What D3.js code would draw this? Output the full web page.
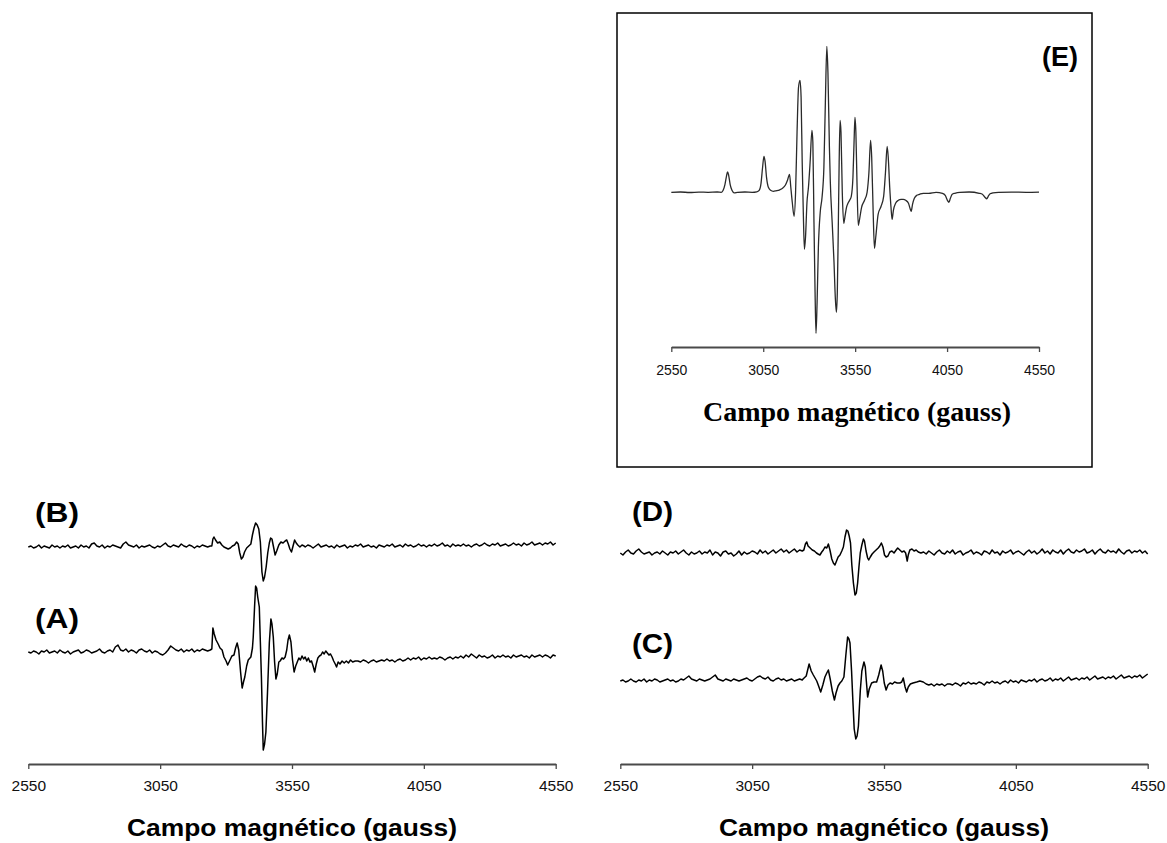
<!DOCTYPE html>
<html><head><meta charset="utf-8">
<script src="https://cdn.jsdelivr.net/npm/d3@7"></script>
<style>body{margin:0;background:#fff;} svg{display:block}</style>
</head><body><svg id="c" width="1167" height="843"></svg>
<script>
// ---------- data ----------
const fieldDomain = [2550, 4550];
const tickValues = [2550, 3050, 3550, 4050, 4550];
const axisTitle = "Campo magnético (gauss)";
const noiseStep = 10; // gauss between baseline readings

// Trace A (left panel, lower)
const aLeft = [0,-1,1,0,-2,1,0,2,-1,0, 1,-1,2,0,-1,1,-2,0,1,2, -1,0,2,1,-1,0,1,3,0,-1, 1,2,0,5,7,2,1,3,0,2,
  1,-1,2,3,1,0,2,-1,1,0, -2,-3,-1,2,6,4,2,1,3,0, 2,1,3,0,2,1,3,2,1,2];
const aPeak = [[3246,3],[3250,24],[3255,18],[3262,12],[3270,8],[3277,4],[3285,2],[3292,-5],[3300,-9],[3306,-13],
  [3315,-8],[3322,-4],[3330,-3],[3336,4],[3342,9],[3348,2],[3355,-20],[3361,-36],[3366,-30],[3371,-25],[3378,-14],
  [3384,-8],[3394,-5],[3400,4],[3403,15],[3408,45],[3412,66],[3416,64],[3420,55],[3426,45],[3430,10],[3434,-25],
  [3438,-70],[3441,-98],[3446,-92],[3451,-80],[3457,-41],[3464,9],[3470,33],[3474,28],[3479,15],[3484,-10],
  [3489,-27],[3494,-22],[3500,-10],[3505,-9],[3512,-6],[3518,-7],[3524,-5],[3530,2],[3535,12],[3540,17],[3546,10],
  [3552,-8],[3558,-20],[3564,-14],[3570,-10],[3576,-6],[3582,-8],[3588,-4],[3594,-7],[3600,-5],[3606,-9],[3612,-6],
  [3618,-10],[3624,-9],[3630,-14],[3636,-20],[3642,-12],[3648,-6],[3654,-4],[3660,-3],[3666,0],[3672,-2],[3678,1],
  [3684,-1],[3690,-3],[3696,-2],[3702,-5],[3708,-9],[3714,-12],[3719,-15],[3725,-10],[3732,-12],[3740,-9],
  [3748,-11],[3756,-9],[3764,-11],[3772,-8],[3780,-10],[3790,-9]];
const aRight = [-9,-10,-8,-9,-11,-9,-8,-10,-9,-8, -9,-7,-9,-8,-10,-8,-7,-9,-8,-6, -8,-6,-7,-5,-8,-6,-7,-5,-7,-6,
  -7,-5,-6,-8,-6,-5,-7,-5,-6,-4, -6,-3,-5,-2,-4,-6,-3,-5,-4,-6, -5,-3,-6,-4,-5,-3,-5,-4,-6,-3,
  -5,-4,-3,-5,-4,-6,-3,-5,-4,-3, -5,-3,-4,-6,-3,-4];

// Trace B (left panel, upper)
const bLeft = [0,1,-1,0,2,-1,1,0,-1,2, 0,1,-1,1,0,2,-1,0,1,-1, 2,0,1,-1,3,4,1,0,2,-1, 1,0,2,1,0,-1,3,5,2,1,
  0,2,-1,1,0,1,2,0,-1,1, 0,2,4,1,0,2,1,0,3,1, 0,2,1,-1,1,0,2,1,0,1];
const bPeak = [[3246,1],[3250,8],[3254,10],[3260,7],[3268,4],[3276,5],[3284,2],[3292,0],[3300,-1],[3308,-2],
  [3316,-1],[3324,1],[3332,2],[3340,5],[3346,3],[3352,-6],[3358,-12],[3364,-10],[3370,-5],[3378,-1],[3386,1],
  [3394,3],[3400,12],[3406,19],[3412,24],[3418,22],[3424,18],[3430,5],[3436,-25],[3441,-34],[3446,-30],[3452,-20],
  [3458,-6],[3464,4],[3469,9],[3474,8],[3480,0],[3486,-8],[3492,-4],[3500,2],[3508,5],[3516,4],[3524,6],[3530,7],
  [3536,3],[3542,-2],[3548,-5],[3554,1],[3560,7],[3566,4],[3572,2],[3580,0],[3588,2],[3596,1]];
const bRight = [0,2,1,-1,1,3,0,1,2,0, 1,-1,2,0,1,2,-1,1,0,2, 1,3,0,1,2,0,1,-1,2,1, 0,2,1,3,0,1,2,0,3,1,
  2,0,1,3,1,2,0,2,1,3, 1,2,4,1,2,0,3,1,2,1, 3,1,2,0,2,3,1,2,4,2, 1,3,2,4,1,2,3,1,2,4,
  2,3,1,4,2,3,5,2,3,4, 2,4,3,5,2,4];

// Trace C (right panel, lower)
const cLeft = [0,1,-1,0,2,0,-1,1,0,2, -1,1,0,2,1,-1,0,1,2,0, 1,-1,0,2,1,3,5,2,1,0, 2,1,0,1,2,4,6,2,1,0,
  2,1,0,2,1,0,1,2,3,1, 0,2,4,5,3,2,4,1,0,2, 3,1,2,0,1,2,0,1,2,1];
const cPeak = [[3243,2],[3255,5],[3266,17],[3274,10],[3282,6],[3295,0],[3302,-5],[3310,-11],[3318,-4],[3326,4],
  [3333,8],[3339,11],[3346,2],[3354,-10],[3362,-19],[3368,-12],[3376,-5],[3383,-2],[3390,0],[3398,4],[3405,25],
  [3412,44],[3417,42],[3421,38],[3427,10],[3432,-20],[3437,-48],[3443,-58],[3448,-55],[3453,-45],[3460,-10],
  [3466,10],[3474,19],[3479,14],[3483,0],[3488,-16],[3494,-8],[3503,-2],[3512,-1],[3522,-1],[3530,6],[3539,16],
  [3545,10],[3551,-2],[3558,-9],[3565,-4],[3573,-2],[3582,-3],[3590,-1],[3600,-2],[3610,-2],[3617,-1],[3623,3],
  [3630,-6],[3636,-11],[3642,-6],[3650,-3],[3660,-2],[3674,-1],[3686,0],[3699,-1],[3710,-3],[3720,-4],[3730,-3],
  [3740,-5],[3750,-3],[3760,-4],[3770,-3],[3780,-5],[3790,-3]];
const cRight = [-3,-4,-2,-3,-5,-2,-3,-1,-3,-2, -3,-1,-2,-4,-1,-2,0,-2,-1,-3, -1,0,-2,1,-1,0,-2,1,0,-1,
  1,0,2,-1,1,2,0,1,3,0, 2,1,3,0,2,4,1,2,3,1, 3,2,4,1,3,5,2,3,4,2, 4,3,5,2,4,6,3,4,5,3, 5,4,6,3,5,7];

// Trace D (right panel, upper)
const dLeft = [0,-2,1,3,0,-1,2,4,1,-1, 0,1,-2,0,1,-1,2,0,-2,1, 0,2,-1,1,3,0,-2,1,-1,0, 2,-1,1,0,3,-2,1,0,-3,1,
  2,-1,0,-3,-1,2,-2,1,-1,0, 2,1,-1,3,0,2,-1,1,3,0, 2,4,1,3,0,2,4,1,3,2];
const dPeak = [[3246,3],[3252,9],[3257,11],[3262,7],[3270,5],[3278,3],[3286,2],[3294,0],[3300,-1],[3307,-2],
  [3314,1],[3320,3],[3326,6],[3333,5],[3339,9],[3345,3],[3352,-6],[3358,-10],[3364,-12],[3370,-8],[3376,-4],
  [3383,-2],[3390,2],[3396,6],[3402,16],[3408,23],[3413,22],[3418,17],[3423,10],[3428,-12],[3434,-30],[3440,-42],
  [3445,-40],[3450,-30],[3455,-14],[3460,0],[3466,8],[3472,14],[3476,12],[3482,2],[3488,-5],[3492,-7],[3498,-4],
  [3505,-1],[3512,1],[3520,3],[3528,5],[3534,7],[3540,10],[3546,6],[3552,-2],[3558,-4],[3565,-3],[3572,1],
  [3580,2],[3588,0],[3596,3],[3602,5],[3610,3],[3618,1],[3626,2],[3632,0],[3638,-8],[3642,-2],[3648,3],[3656,4],
  [3664,2],[3672,3],[3680,1],[3690,0]];
const dRight = [1,-1,2,0,-2,1,3,0,-1,2, 0,3,-1,1,2,-2,0,1,3,-1, 1,0,-2,2,1,-1,3,0,1,-2, 2,0,1,3,-1,1,2,0,-2,1,
  3,0,2,-1,1,4,0,2,-1,3, 1,0,3,-1,2,4,1,0,3,1, 2,4,0,1,3,-1,2,4,1,0, 3,1,2,0,4,1,-1,2,3,0, 2,1,3,0,2,-1];

// Trace E (inset)
const eData = [[2550,0],[2600,0.3],[2650,-0.2],[2700,0.2],[2750,0],[2800,0.3],[2822,0],[2832,2],[2842,8],
  [2850,16],[2856,20.5],[2862,17],[2870,8],[2880,2],[2892,-0.5],[2910,0],[2950,0.3],[2990,0],[3015,0.5],[3028,2],
  [3038,9],[3046,24],[3054,36],[3060,31],[3068,15],[3078,5],[3090,2],[3105,1],[3120,1.5],[3140,2.5],[3155,4],
  [3170,7],[3182,12],[3193,18],[3200,5],[3208,-10],[3218,-24],[3226,0],[3234,60],[3242,105],[3250,112],[3256,95],
  [3262,30],[3268,-20],[3274,-57],[3280,-45],[3288,-10],[3296,5],[3305,30],[3315,62],[3320,50],[3326,-30],
  [3332,-100],[3337,-141],[3343,-110],[3350,-55],[3360,-20],[3370,-5],[3380,25],[3388,90],[3396,146],[3402,120],
  [3410,45],[3415,10],[3425,-30],[3435,-70],[3442,-105],[3448,-120],[3453,-100],[3458,-40],[3463,30],[3468,72],
  [3473,60],[3480,0],[3488,-31],[3494,-25],[3503,-15],[3511,-11],[3520,-8],[3529,-4],[3538,15],[3544,50],[3549,75],
  [3554,60],[3560,10],[3567,-33],[3573,-28],[3585,-15],[3601,-8],[3615,0],[3625,20],[3634,52],[3640,35],[3648,-20],
  [3655,-56],[3662,-45],[3675,-22],[3691,-14],[3705,-4],[3715,20],[3724,46],[3730,35],[3738,5],[3745,-15],
  [3751,-27],[3758,-18],[3770,-11],[3785,-8],[3800,-7],[3812,-7],[3825,-8],[3840,-11],[3850,-17],[3855,-19],
  [3862,-12],[3872,-6],[3885,-3],[3900,-2],[3920,-1],[3950,-1],[3990,0],[4025,-1],[4040,-3],[4052,-8],[4060,-10],
  [4068,-6],[4078,-2],[4092,-1],[4120,0],[4170,0.3],[4225,-1],[4242,-2],[4256,-5],[4266,-6.5],[4274,-4],
  [4284,-1.5],[4300,-0.5],[4330,0],[4400,0.2],[4480,0],[4550,0.2]];

// ---------- drawing ----------
function build(left, peak, rightStart, right) {
  const pts = left.map((v, i) => [fieldDomain[0] + i * noiseStep, v]);
  peak.forEach(p => pts.push(p));
  right.forEach((v, i) => pts.push([rightStart + i * noiseStep, v]));
  return pts;
}
const svg = d3.select("#c");
const xL = d3.scaleLinear().domain(fieldDomain).range([28.3, 555.7]);
const xR = d3.scaleLinear().domain(fieldDomain).range([620.3, 1147.7]);
const xE = d3.scaleLinear().domain(fieldDomain).range([671.3, 1039]);
const yAt = base => d3.scaleLinear().domain([-100, 100]).range([base + 100, base - 100]);
const sans = "Liberation Sans, Arial, sans-serif";

const traces = [
  {pts: build(aLeft, aPeak, 3800, aRight), x: xL, y: yAt(652), label: "(A)", lx: 35, ly: 627.5, lw: 44},
  {pts: build(bLeft, bPeak, 3600, bRight), x: xL, y: yAt(547), label: "(B)", lx: 35, ly: 521.5, lw: 44},
  {pts: build(cLeft, cPeak, 3800, cRight), x: xR, y: yAt(681), label: "(C)", lx: 632, ly: 653, lw: 41},
  {pts: build(dLeft, dPeak, 3700, dRight), x: xR, y: yAt(553), label: "(D)", lx: 632, ly: 521, lw: 41}
];
traces.forEach(t => {
  svg.append("path").datum(t.pts)
    .attr("d", d3.line().x(d => t.x(d[0])).y(d => t.y(d[1])))
    .attr("fill", "none").attr("stroke", "#000").attr("stroke-width", 1.5)
    .attr("stroke-linejoin", "round");
  svg.append("text").attr("x", t.lx).attr("y", t.ly).text(t.label)
    .attr("font-family", sans).attr("font-weight", "bold")
    .attr("font-size", 27).attr("fill", "#000")
    .attr("textLength", t.lw).attr("lengthAdjust", "spacingAndGlyphs");
});

function drawAxis(x, y, fs, pad) {
  const g = svg.append("g").attr("transform", `translate(0,${y})`)
    .call(d3.axisBottom(x).tickValues(tickValues).tickSize(5).tickSizeOuter(0)
      .tickPadding(pad).tickFormat(d3.format("d")));
  g.select(".domain").attr("stroke", "#4a4a4a").attr("stroke-width", 2);
  g.selectAll(".tick line").attr("stroke", "#4a4a4a").attr("stroke-width", 1.3);
  g.selectAll(".tick text").attr("font-family", sans)
    .attr("font-size", fs).attr("fill", "#111");
}
drawAxis(xL, 764, 15.5, 11);
drawAxis(xR, 764, 15.5, 11);

[292, 884].forEach(cx => {
  svg.append("text").attr("x", cx).attr("y", 836).attr("text-anchor", "middle").text(axisTitle)
    .attr("font-family", sans).attr("font-weight", "bold")
    .attr("font-size", 24).attr("fill", "#000")
    .attr("textLength", 330).attr("lengthAdjust", "spacingAndGlyphs");
});

// inset
svg.append("rect").attr("x", 617).attr("y", 13).attr("width", 475).attr("height", 454)
  .attr("fill", "#fff").attr("stroke", "#000").attr("stroke-width", 1.5);
const yE = d3.scaleLinear().domain([-150, 150]).range([192.3 + 150, 192.3 - 150]);
svg.append("path").datum(eData)
  .attr("d", d3.line().x(d => xE(d[0])).y(d => yE(d[1])).curve(d3.curveMonotoneX))
  .attr("fill", "none").attr("stroke", "#2a2a2a").attr("stroke-width", 1.3);
drawAxis(xE, 347, 14, 13);
svg.append("text").attr("x", 857).attr("y", 421).attr("text-anchor", "middle").text(axisTitle)
  .attr("font-family", "Liberation Serif, Times New Roman, serif").attr("font-weight", "bold")
  .attr("font-size", 28).attr("fill", "#000");
svg.append("text").attr("x", 1078).attr("y", 66).attr("text-anchor", "end").text("(E)")
  .attr("font-family", sans).attr("font-weight", "bold")
  .attr("font-size", 27).attr("fill", "#000");
</script></body></html>
